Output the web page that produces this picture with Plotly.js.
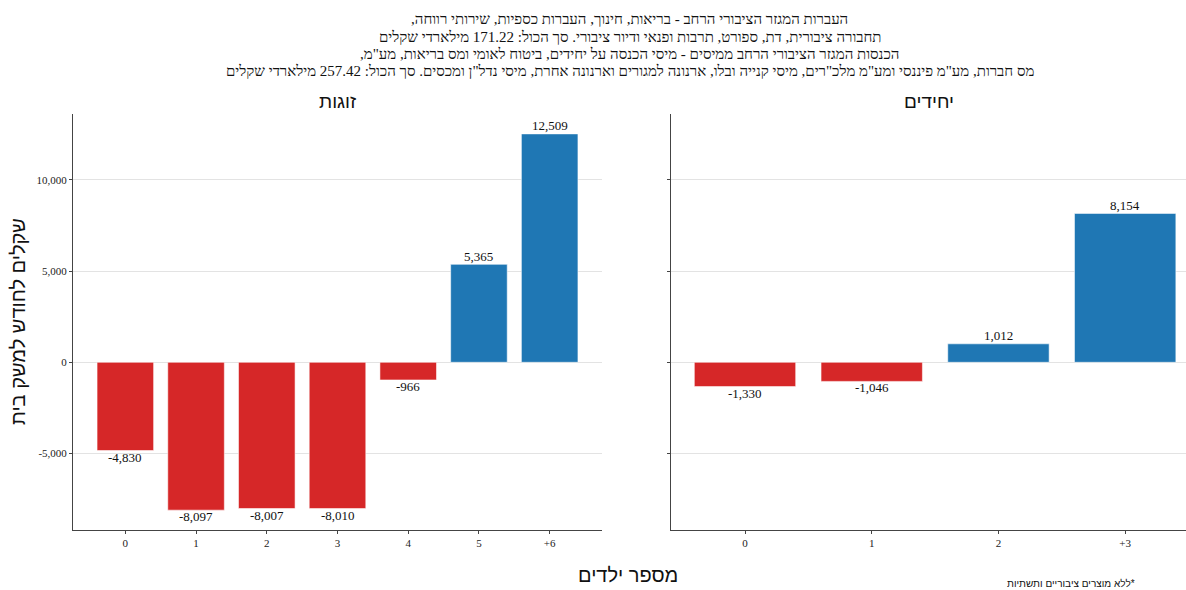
<!DOCTYPE html>
<html>
<head>
<meta charset="utf-8">
<script src="https://cdn.plot.ly/plotly-3.0.1.min.js"></script>
<style>html,body{margin:0;padding:0;background:#fff;}</style>
</head>
<body>
<div id="chart" style="width:1186px;height:590px;"></div>
<script>
// ---- data ----
const couplesCats = ['0', '1', '2', '3', '4', '5', '+6'];
const couplesVals = [-4830, -8097, -8007, -8010, -966, 5365, 12509];
const singlesCats = ['0', '1', '2', '+3'];
const singlesVals = [-1330, -1046, 1012, 8154];
const panelTitles = ['זוגות', 'יחידים'];
const yTickVals = [-5000, 0, 5000, 10000];
const yTickText = ['-5,000', '0', '5,000', '10,000'];
const titleLines = [
  'העברות המגזר הציבורי הרחב - בריאות, חינוך, העברות כספיות, שירותי רווחה,',
  'תחבורה ציבורית, דת, ספורט, תרבות ופנאי ודיור ציבורי. סך הכול: 171.22 מילארדי שקלים',
  'הכנסות המגזר הציבורי הרחב ממיסים - מיסי הכנסה על יחידים, ביטוח לאומי ומס בריאות, מע"מ,',
  'מס חברות, מע"מ פיננסי ומע"מ מלכ"רים, מיסי קנייה ובלו, ארנונה למגורים וארנונה אחרת, מיסי נדל"ן ומכסים. סך הכול: 257.42 מילארדי שקלים'
];
const yTitle = 'שקלים לחודש למשק בית';
const xTitle = 'מספר ילדים';
const footnote = '*ללא מוצרים ציבוריים ותשתיות';

const RED = '#d62728', BLUE = '#1f77b4';
const fmt = v => v.toLocaleString('en-US');
const colors = vals => vals.map(v => v < 0 ? RED : BLUE);
// right-to-left embedding so neutral characters sit as in Hebrew text
const rtl = s => '\u202B' + s + '\u202C';

const W = 1186, H = 590;
const serif = 'Liberation Serif, Times New Roman, serif';
const sans = 'Liberation Sans, Arial, sans-serif';

const barCommon = {
  type: 'bar',
  width: 0.8,
  hoverinfo: 'x+y',
  showlegend: false
};

const traces = [
  Object.assign({}, barCommon, {
    x: couplesCats, y: couplesVals,
    marker: {color: colors(couplesVals), line: {color: 'rgba(255,255,255,0.55)', width: 1}},
    xaxis: 'x', yaxis: 'y'
  }),
  Object.assign({}, barCommon, {
    x: singlesCats, y: singlesVals,
    marker: {color: colors(singlesVals), line: {color: 'rgba(255,255,255,0.55)', width: 1}},
    xaxis: 'x2', yaxis: 'y2'
  })
];

const yRange = [-9184, 13598];
const yDomain = [1 - 530 / H, 1 - 114 / H];
const axisColor = '#444';
const gridColor = '#e3e3e3';

const xCommon = {
  type: 'category',
  showline: true, linecolor: axisColor, linewidth: 1,
  ticks: 'outside', ticklen: 3, tickcolor: axisColor,
  showgrid: false, zeroline: false,
  tickfont: {family: serif, size: 11, color: '#222'},
  fixedrange: true
};
const yCommon = {
  range: yRange,
  tickvals: yTickVals, ticktext: yTickText,
  showline: true, linecolor: axisColor, linewidth: 1,
  ticks: 'outside', ticklen: 3, tickcolor: axisColor,
  showgrid: true, gridcolor: gridColor, gridwidth: 1,
  zeroline: true, zerolinecolor: gridColor, zerolinewidth: 1,
  tickfont: {family: serif, size: 11, color: '#222'},
  domain: yDomain,
  fixedrange: true
};

// value labels tied to the data through the axes
const labelAnns = (cats, vals, xr, yr) => cats.map((c, i) => ({
  text: fmt(vals[i]), x: c, y: vals[i], xref: xr, yref: yr,
  xanchor: 'center', yanchor: vals[i] >= 0 ? 'bottom' : 'top',
  yshift: vals[i] >= 0 ? -0.5 : 2,
  showarrow: false, borderpad: 0,
  font: {family: serif, size: 13, color: '#111'}
}));

const titleY = [19, 37, 54, 71];
const titleAnns = titleLines.map((t, i) => ({
  text: rtl(t), x: 629.5 / W, y: 1 - titleY[i] / H, xref: 'paper', yref: 'paper',
  xanchor: 'center', yanchor: 'middle', showarrow: false,
  font: {family: serif, size: 15, color: '#111'}
}));

const layout = {
  width: W, height: H,
  margin: {l: 0, r: 0, t: 0, b: 0},
  paper_bgcolor: '#fff', plot_bgcolor: '#fff',
  bargap: 0.2,
  xaxis: Object.assign({}, xCommon, {
    domain: [73 / W, 602 / W], range: [-0.74, 6.74], anchor: 'y'
  }),
  yaxis: Object.assign({}, yCommon, {anchor: 'x'}),
  xaxis2: Object.assign({}, xCommon, {
    domain: [671 / W, 1], range: [-0.584, 3.48], anchor: 'y2'
  }),
  yaxis2: Object.assign({}, yCommon, {anchor: 'x2', showticklabels: false}),
  annotations: titleAnns
    .concat(labelAnns(couplesCats, couplesVals, 'x', 'y'))
    .concat(labelAnns(singlesCats, singlesVals, 'x2', 'y2'))
    .concat([
    {text: rtl(panelTitles[0]), x: 337.5 / W, y: 1 - 102 / H, xref: 'paper', yref: 'paper',
     xanchor: 'center', yanchor: 'middle', showarrow: false,
     font: {family: sans, size: 19, color: '#111'}},
    {text: rtl(panelTitles[1]), x: 928.5 / W, y: 1 - 102 / H, xref: 'paper', yref: 'paper',
     xanchor: 'center', yanchor: 'middle', showarrow: false,
     font: {family: sans, size: 19, color: '#111'}},
    {text: rtl(yTitle), x: 18 / W, y: 1 - 322 / H, xref: 'paper', yref: 'paper',
     xanchor: 'center', yanchor: 'middle', textangle: -90, showarrow: false,
     font: {family: sans, size: 20, color: '#111'}},
    {text: rtl(xTitle), x: 628 / W, y: 1 - 575 / H, xref: 'paper', yref: 'paper',
     xanchor: 'center', yanchor: 'middle', showarrow: false,
     font: {family: sans, size: 20, color: '#111'}},
    {text: rtl(footnote), x: 1071 / W, y: 1 - 583 / H, xref: 'paper', yref: 'paper',
     xanchor: 'center', yanchor: 'middle', showarrow: false,
     font: {family: sans, size: 10, color: '#111'}}
  ])
};

Plotly.newPlot('chart', traces, layout, {displayModeBar: false});
</script>
</body>
</html>
